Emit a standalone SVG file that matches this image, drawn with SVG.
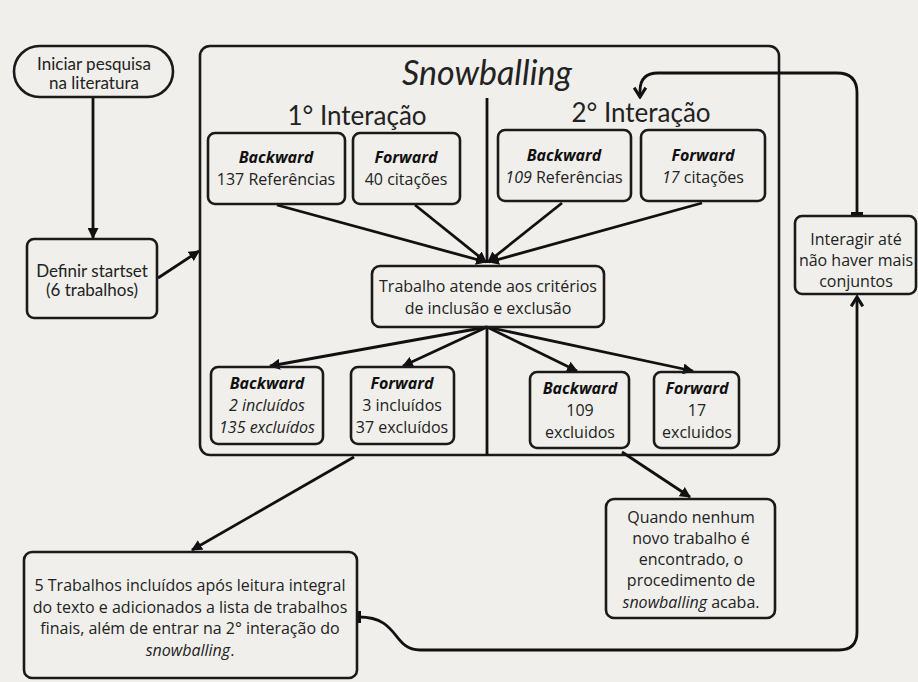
<svg xmlns="http://www.w3.org/2000/svg" width="918" height="682" viewBox="0 0 918 682">
<defs>
<style>
.bg{fill:#f0efeb}
.box{fill:none;stroke:#1a1a1a;stroke-width:2.6}
.ln{fill:none;stroke:#111;stroke-width:2.8}
.t{font-family:"Open Sans","DejaVu Sans",sans-serif;font-size:16px;fill:#222;text-anchor:middle}
.l{font-family:Lato,"Open Sans",sans-serif;fill:#222;text-anchor:middle}
.bi{font-weight:bold;font-style:italic;fill:#111}
.i{font-style:italic}
</style>
<marker id="arr" viewBox="0 0 10 10" refX="9" refY="5" markerWidth="11" markerHeight="11" markerUnits="userSpaceOnUse" orient="auto">
<path d="M0,0 L10,5 L0,10 Z" fill="#111"/>
</marker>
<marker id="chev" viewBox="0 0 12 12" refX="10" refY="6" markerWidth="14" markerHeight="14" markerUnits="userSpaceOnUse" orient="auto">
<path d="M2,1 L10,6 L2,11" fill="none" stroke="#111" stroke-width="2.6"/>
</marker>
<marker id="tbar" viewBox="0 0 4 12" refX="2" refY="6" markerWidth="4" markerHeight="12" markerUnits="userSpaceOnUse" orient="auto">
<rect x="0" y="0" width="4" height="12" fill="#111"/>
</marker>
</defs>
<rect class="bg" x="0" y="0" width="918" height="682"/>

<g id="snowballing-frame">
<rect class="box" x="200" y="46" width="579" height="409" rx="10"/>
<text class="l i" x="487" y="85" font-size="34">Snowballing</text>
<text class="l" x="357" y="125" font-size="26">1° Interação</text>
<text class="l" x="641" y="122" font-size="26">2° Interação</text>
</g>

<g id="connectors">
<path class="ln" d="M93 97 V238" marker-end="url(#arr)"/>
<path class="ln" d="M158 278 L199 251" marker-end="url(#arr)"/>
<path class="ln" d="M487 98 V263"/>
<path class="ln" d="M277 205 L486 262" marker-end="url(#arr)"/>
<path class="ln" d="M415 205 L486 262" marker-end="url(#arr)"/>
<path class="ln" d="M562 203 L488 262" marker-end="url(#arr)"/>
<path class="ln" d="M702 203 L489 262" marker-end="url(#arr)"/>
<path class="ln" d="M487 327 L270 366" marker-end="url(#arr)"/>
<path class="ln" d="M487 327 L403 366" marker-end="url(#arr)"/>
<path class="ln" d="M487 327 L577 371" marker-end="url(#arr)"/>
<path class="ln" d="M487 327 L693 371" marker-end="url(#arr)"/>
<path class="ln" d="M487 327 V455"/>
<path class="ln" d="M354 457 L192 550" marker-end="url(#arr)"/>
<path class="ln" d="M622 452 L690 497" marker-end="url(#arr)"/>
<path class="ln" d="M359 617 C400 617 392 650 420 650 H839 Q857 650 857 632 V297" marker-start="url(#tbar)" marker-end="url(#chev)"/>
<path class="ln" d="M857 214 V93 Q857 73 837 73 H658 Q640 73 640 91 V97" marker-start="url(#tbar)" marker-end="url(#chev)"/>
</g>

<g id="iniciar">
<rect class="box" x="14" y="46" width="159" height="51" rx="25.5"/>
<text class="l" x="94" y="70" font-size="17">Iniciar pesquisa</text>
<text class="l" x="94" y="89" font-size="17">na literatura</text>
</g>

<g id="definir">
<rect class="box" x="27" y="239" width="130" height="79" rx="7"/>
<text class="l" x="92" y="277" font-size="17">Definir startset</text>
<text class="l" x="92" y="296" font-size="17">(6 trabalhos)</text>
</g>

<g id="b1">
<rect class="box" x="208" y="133" width="137" height="71" rx="7"/>
<text class="t bi" x="276" y="163">Backward</text>
<text class="t" x="276" y="185">137 Referências</text>
</g>
<g id="f1">
<rect class="box" x="353" y="133" width="107" height="71" rx="7"/>
<text class="t bi" x="406" y="163">Forward</text>
<text class="t" x="406" y="185">40 citações</text>
</g>
<g id="b2">
<rect class="box" x="498" y="130" width="133" height="71" rx="7"/>
<text class="t bi" x="564" y="161">Backward</text>
<text class="t" x="564" y="183"><tspan class="i">109</tspan> Referências</text>
</g>
<g id="f2">
<rect class="box" x="641" y="130" width="124" height="71" rx="7"/>
<text class="t bi" x="703" y="161">Forward</text>
<text class="t" x="703" y="183"><tspan class="i">17</tspan> citações</text>
</g>

<g id="criterios">
<rect class="box" x="372" y="266" width="232" height="61" rx="8"/>
<text class="t" x="488" y="292">Trabalho atende aos critérios</text>
<text class="t" x="488" y="314">de inclusão e exclusão</text>
</g>

<g id="b3">
<rect class="box" x="211" y="367" width="112" height="77" rx="7"/>
<text class="t bi" x="267" y="389">Backward</text>
<text class="t i" x="267" y="411">2 incluídos</text>
<text class="t i" x="267" y="433">135 excluídos</text>
</g>
<g id="f3">
<rect class="box" x="351" y="367" width="103" height="77" rx="7"/>
<text class="t bi" x="402" y="389">Forward</text>
<text class="t" x="402" y="411">3 incluídos</text>
<text class="t" x="402" y="433">37 excluídos</text>
</g>
<g id="b4">
<rect class="box" x="530" y="372" width="99" height="76" rx="7"/>
<text class="t bi" x="580" y="394">Backward</text>
<text class="t" x="580" y="416">109</text>
<text class="t" x="580" y="438">excluidos</text>
</g>
<g id="f4">
<rect class="box" x="654" y="372" width="85" height="76" rx="7"/>
<text class="t bi" x="697" y="394">Forward</text>
<text class="t" x="697" y="416">17</text>
<text class="t" x="697" y="438">excluidos</text>
</g>

<g id="interagir">
<rect class="box" x="795" y="216" width="121" height="78" rx="7"/>
<text class="t" x="856" y="245">Interagir até</text>
<text class="t" x="856" y="266">não haver mais</text>
<text class="t" x="856" y="287">conjuntos</text>
</g>

<g id="quando">
<rect class="box" x="606" y="499" width="169" height="119" rx="8"/>
<text class="t" x="691" y="523">Quando nenhum</text>
<text class="t" x="691" y="544">novo trabalho é</text>
<text class="t" x="691" y="565">encontrado, o</text>
<text class="t" x="691" y="586">procedimento de</text>
<text class="t" x="691" y="608"><tspan class="i">snowballing</tspan> acaba.</text>
</g>

<g id="cinco-trabalhos">
<rect class="box" x="24" y="552" width="333" height="126" rx="8"/>
<text class="t" x="190" y="591">5 Trabalhos incluídos após leitura integral</text>
<text class="t" x="190" y="613">do texto e adicionados a lista de trabalhos</text>
<text class="t" x="190" y="634">finais, além de entrar na 2° interação do</text>
<text class="t" x="190" y="656"><tspan class="i">snowballing</tspan>.</text>
</g>
</svg>
